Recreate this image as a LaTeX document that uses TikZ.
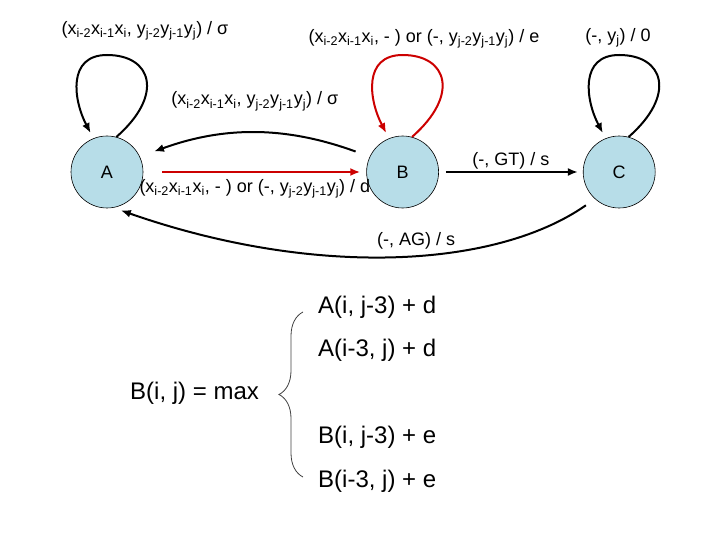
\documentclass[tikz,border=0pt]{standalone}
\usepackage{fontspec}
\setmainfont{Liberation Sans}
\usetikzlibrary{arrows.meta, positioning, calc, decorations.pathreplacing}
\definecolor{statefill}{RGB}{183,221,232}
\definecolor{gapred}{RGB}{204,0,0}
\newcommand{\idx}[1]{\textsubscript{#1}}

\begin{document}
\begin{tikzpicture}[
  x=1pt, y=-1pt,
  font=\fontsize{18}{21}\selectfont,
  state/.style={circle, draw=black, line width=0.6pt, fill=statefill,
                minimum size=72pt, inner sep=0pt},
  arr/.style={-{Latex[length=10pt,width=8pt]}, line width=2pt},
  gap/.style={arr, draw=gapred},
  lbl/.style={inner sep=2pt},
  eqn/.style={font=\fontsize{24}{28}\selectfont, anchor=west, inner sep=0pt},
  brc/.style={decorate, decoration={brace, amplitude=24pt}, draw=black!75,
              line width=0.8pt},
]
\useasboundingbox (0,0) rectangle (720,540);
% states
\node (A) [state] at (107,172) {A};
\node (B) [state, right=223pt of A] {B};
\node (C) [state, right=144pt of B] {C};
% self loops
\foreach \n/\c in {A/black, B/gapred, C/black}
  \draw [arr, draw=\c, shorten >=6pt] (\n.75)
        .. controls +(48,-42) and +(45,0) .. ($(\n)+(0,-117)$)
        .. controls +(-40,0) and +(-20,-38) .. (\n.112);
\node (la) at (145,31) {(x\idx{i-2}x\idx{i-1}x\idx{i}, y\idx{j-2}y\idx{j-1}y\idx{j}) / σ};
\node (lb) at (424,39) {(x\idx{i-2}x\idx{i-1}x\idx{i}, - ) or (-, y\idx{j-2}y\idx{j-1}y\idx{j}) / e};
\node (lc) at (618,38) {(-, y\idx{j}) / 0};
% transitions
\draw [arr, shorten <=15pt, shorten >=15pt] (B.155) to[bend right=20]
      node (lba) [lbl, above=20pt]
      {(x\idx{i-2}x\idx{i-1}x\idx{i}, y\idx{j-2}y\idx{j-1}y\idx{j}) / σ} (A.25);
\draw [gap, shorten <=19pt, shorten >=6pt] (A) --
      node (lab) [lbl, below=4pt]
      {(x\idx{i-2}x\idx{i-1}x\idx{i}, - ) or (-, y\idx{j-2}y\idx{j-1}y\idx{j}) / d} (B);
\draw [arr, shorten <=7pt, shorten >=5pt] (B) --
      node (lbc) [lbl, above] {(-, GT) / s} (C);
\draw [arr, shorten <=11pt, shorten >=8pt] (C.228)
      .. controls +(-100,70) and +(200,70) .. (A.280)
      node (lca) [lbl, pos=0.45, above=2pt] {(-, AG) / s};
% recurrence
\node (r1) [eqn] at (318,307) {A(i, j-3) + d};
\node (r2) [eqn] at (318,350) {A(i-3, j) + d};
\node (bm) [eqn] at (130,393) {B(i, j) = max};
\node (r3) [eqn] at (318,437) {B(i, j-3) + e};
\node (r4) [eqn] at (318,481) {B(i-3, j) + e};
\draw [brc] ($(r4.west)+(-15,-4)$) -- ($(r1.west)+(-15,5)$);
\end{tikzpicture}
\end{document}
